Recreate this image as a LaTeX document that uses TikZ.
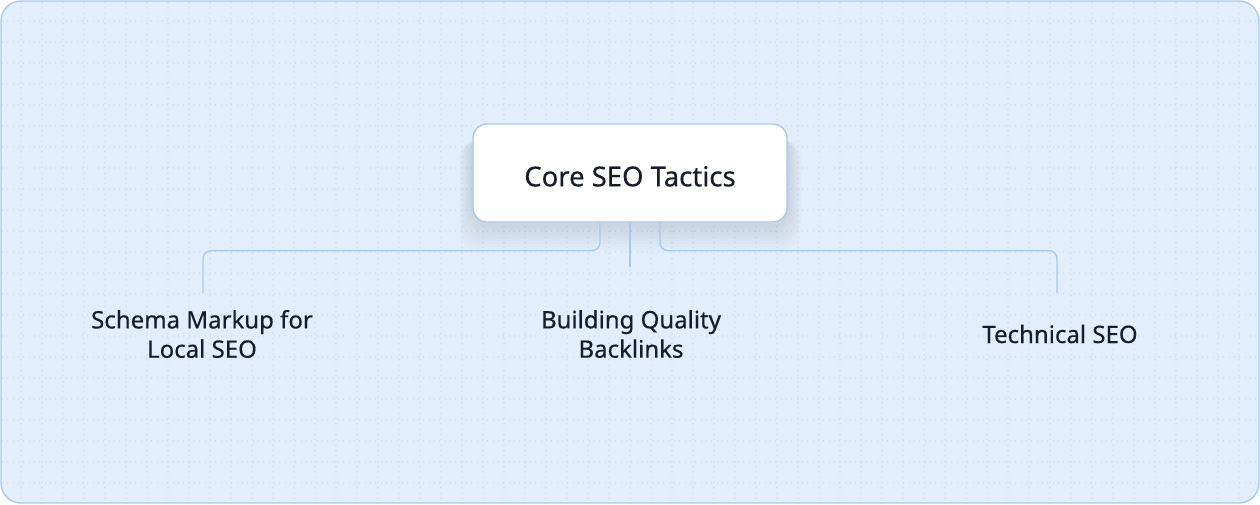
\documentclass[tikz,border=0pt]{standalone}
\usepackage{fontspec}
\setmainfont{Noto Sans}
\newfontfamily\labelfont[FakeBold=0.35]{Noto Sans}
\usepackage{xcolor}
\usepackage{tikz}
\usetikzlibrary{calc,positioning}
\definecolor{panel}{HTML}{E3EEFC}
\definecolor{edge}{HTML}{A8C8EE}
\definecolor{gridc}{HTML}{D2E0F3}
\definecolor{ink}{HTML}{161C28}
\definecolor{shade}{HTML}{6B8AB5}
\tikzset{
  panelbox/.style={draw=edge, fill=panel, line width=1pt, rounded corners=15pt},
  gridline/.style={draw=gridc, line width=0.8pt, dash pattern=on 0.8pt off 3.2pt},
  corebox/.style={draw=edge, fill=white, line width=1pt, rounded corners=10.5pt,
    minimum width=235.5pt, minimum height=73.5pt, text height=20pt, text depth=0pt,
    text=ink, font=\labelfont\fontsize{20.6}{24}\selectfont},
  leaf/.style={align=center, text=ink, inner sep=0pt, font=\labelfont\fontsize{18}{22}\selectfont},
  link/.style={draw=edge, line width=1pt, rounded corners=6pt},
}
\begin{document}
\begin{tikzpicture}[x=0.75pt, y=-0.75pt]
  \useasboundingbox (0,0) rectangle (1260,504);
  \draw[panelbox] (1,1) rectangle (1259,503);

  % dotted grid, every 21px
  \begin{scope}
    \clip[rounded corners=15pt] (2,2) rectangle (1258,502);
    \foreach \x in {21,42,...,1239} \draw[gridline] (\x,2) -- (\x,502);
    \foreach \y in {21,42,...,483} \draw[gridline] (2,\y) -- (1258,\y);
  \end{scope}

  % soft shadow under the root box
  \foreach \i in {1,...,8}
    \fill[shade, opacity=0.012, rounded corners=14pt]
      (475-\i*2,132+\i) rectangle (785+\i*2,226+\i*3);

  \node[corebox] (core) at (630,173) {Core SEO Tactics};

  \node[leaf] (schema) at (202,334) {Schema Markup for\\Local SEO};
  \node[leaf] (backlinks) at (631,334) {Building Quality\\Backlinks};
  \node[leaf] (technical) at (1060,334) {Technical SEO};

  \coordinate (lend) at (203,293);
  \coordinate (mend) at (630,267);
  \coordinate (rend) at (1057,293);

  \draw[link] ($(core.south)+(-30,0)$) -- ++(0,28) -| (lend);
  \draw[link] (core.south) -- (mend);
  \draw[link] ($(core.south)+(30,0)$) -- ++(0,28) -| (rend);
\end{tikzpicture}
\end{document}
